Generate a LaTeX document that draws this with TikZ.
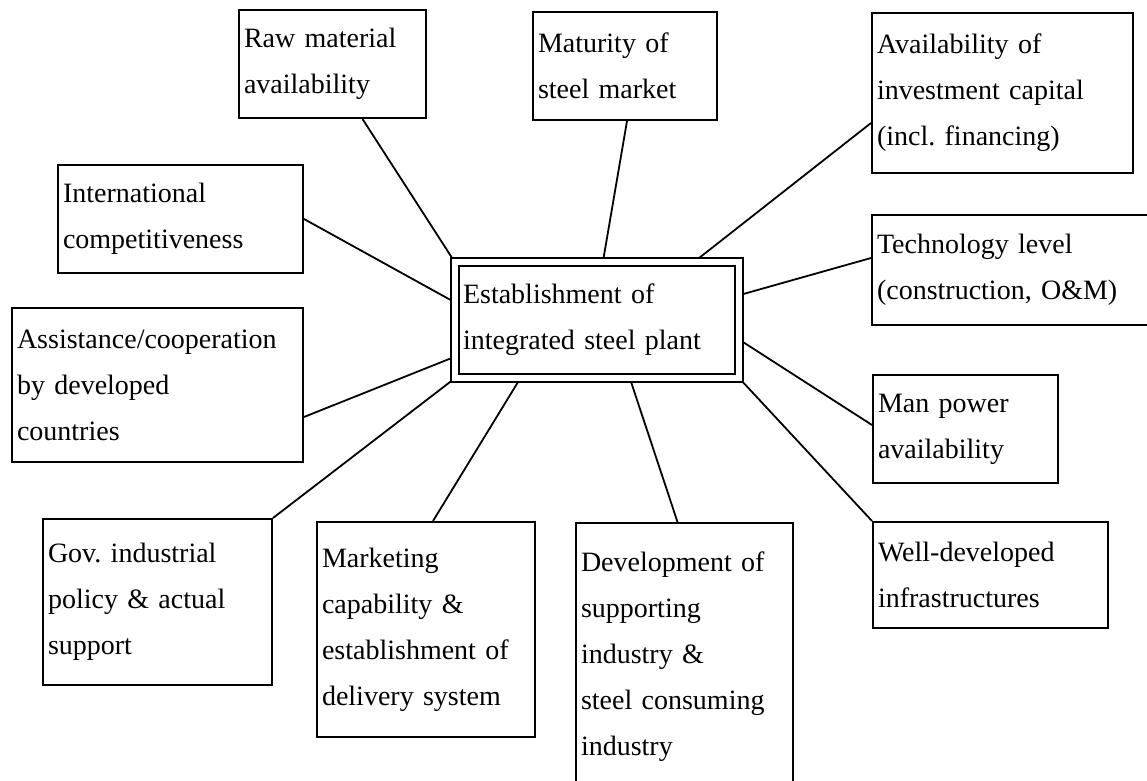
\documentclass[tikz,border=0pt]{standalone}
\usepackage{fontspec}
\setmainfont{Liberation Serif}
\usetikzlibrary{backgrounds}
\begin{document}
\frenchspacing
\begin{tikzpicture}[x=1pt,y=1pt,
  box/.style={draw, line width=2pt, fill=white, inner xsep=5pt, inner ysep=0pt,
    align=left, font=\fontsize{28}{46}\selectfont\frenchspacing, anchor=center},
  link/.style={line width=1.8pt}]
\useasboundingbox (0,0) rectangle (1147,780);
\clip (0,0) rectangle (1147,780);

\node[box, minimum width=187pt, minimum height=108pt, text width=177pt] (raw) at (332.5,716)
  {Raw material\\availability};
\node[box, minimum width=184pt, minimum height=108pt, text width=174pt] (mat) at (625,714)
  {Maturity of\\steel market};
\node[box, minimum width=261pt, minimum height=160pt, text width=251pt] (avail) at (1002.5,687)
  {Availability of\\investment capital\\(incl. financing)};
\node[box, minimum width=245pt, minimum height=108pt, text width=235pt] (intl) at (180.5,561)
  {International\\competitiveness};
\node[box, minimum width=293pt, minimum height=110pt, text width=283pt] (tech) at (1018.5,510)
  {Technology level\\(construction, O\&M)};
\node[box, line width=1.6pt, double, double distance=6pt, inner xsep=8pt,
  minimum width=284pt, minimum height=116pt, text width=268pt] (cen) at (597,460)
  {Establishment of\\integrated steel plant};
\node[box, minimum width=291pt, minimum height=154pt, text width=281pt] (assist) at (157.5,395)
  {Assistance/cooperation\\by developed\\countries};
\node[box, minimum width=185pt, minimum height=108pt, text width=175pt] (man) at (965.5,351)
  {Man power\\availability};
\node[box, minimum width=229pt, minimum height=166pt, text width=219pt] (gov) at (157.5,178)
  {Gov. industrial\\policy \& actual\\support};
\node[box, minimum width=218pt, minimum height=215pt, text width=208pt] (mkt) at (426,150.5)
  {Marketing\\capability \&\\establishment of\\delivery system};
\node[box, minimum width=217pt, minimum height=267pt, text width=207pt] (dev) at (684.5,123.5)
  {Development of\\supporting\\industry \&\\steel consuming\\industry};
\node[box, minimum width=235pt, minimum height=106pt, text width=225pt] (well) at (990.5,205)
  {Well-developed\\infrastructures};

\begin{scope}[on background layer]
\draw[link] ([xshift=30pt]raw.south) -- (cen.north west);
\draw[link] ([xshift=2pt]mat.south) -- ([xshift=6pt]cen.north);
\draw[link] ([yshift=-30pt]avail.west) -- ([xshift=98pt]cen.north);
\draw[link] (intl.east) -- ([yshift=18pt]cen.west);
\draw[link] ([yshift=12pt]tech.west) -- ([yshift=25pt]cen.east);
\draw[link] ([yshift=-32pt]assist.east) -- ([yshift=-37pt]cen.west);
\draw[link] (gov.north east) -- (cen.south west);
\draw[link] ([xshift=7pt]mkt.north) -- ([xshift=-77pt]cen.south);
\draw[link] ([xshift=-7pt]dev.north) -- ([xshift=33pt]cen.south);
\draw[link] ([yshift=4pt]man.west) -- ([yshift=-20pt]cen.east);
\draw[link] (well.north west) -- (cen.south east);
\end{scope}
\end{tikzpicture}
\end{document}
